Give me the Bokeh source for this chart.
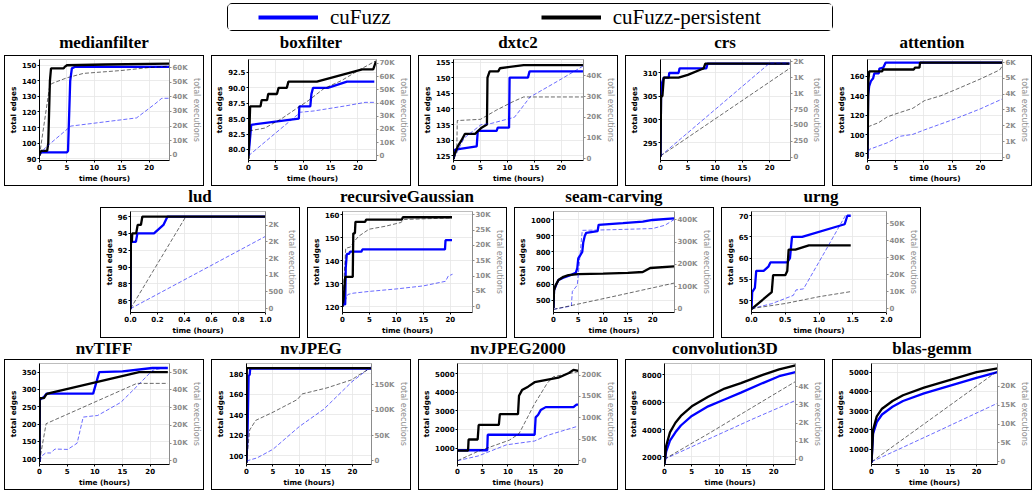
from bokeh.plotting import figure
from bokeh.models import Range1d, LinearAxis, FixedTicker, Div, Spacer, Legend, LegendItem
from bokeh.layouts import row, column
from bokeh.embed import file_html
from bokeh.resources import INLINE

BLUE = "#0000ff"
BLACK = "#000000"
GREY = "#8c8c8c"
NAN = float("nan")

SERIES_NAMES = ["cuFuzz", "cuFuzz-persistent"]
X_LABEL = "time (hours)"
Y_LABEL = "total edges"
Y2_LABEL = "total executions"

# ---------------- data: (hours, value) pairs ----------------
medianfilter_cf_edges = [(0, 93), (0.2, 94), (5.0, 94), (5.2, 95), (5.6, 140), (5.9, 148), (6.5, 149), (23.7, 149)]
medianfilter_cp_edges = [(0, 92), (0.3, 95), (1.4, 95), (1.6, 100), (1.9, 140), (2.1, 148), (4.4, 148), (4.6, 149), (5.0, 150), (12, 150.5), (23.7, 151)]
medianfilter_cf_exec = [(0, 0), (1, 5000), (5.7, 20000), (10, 22000), (17.7, 25600), (21, 35000), (22.3, 39000), (23.7, 39000)]
medianfilter_cp_exec = [(0, 0), (1.8, 46000), (2.2, 49000), (5, 53000), (8, 56000), (15, 58000), (20, 60000), (23.7, 61000)]

boxfilter_cf_edges = [(0, 79), (0.5, 84), (9.2, 85), (9.3, 87), (11.3, 87), (11.5, 89), (11.8, 90), (14.5, 90), (18, 91), (23, 91)]
boxfilter_cp_edges = [(0, 78.5), (0.3, 87), (2.2, 87), (2.4, 88), (3.4, 88), (3.6, 89), (5.2, 89), (5.5, 90), (7.0, 90), (7.3, 91), (12.5, 91), (20.8, 93), (22.8, 93), (23.3, 94.3)]
boxfilter_cf_exec = [(0, 0), (9.5, 33000), (12, 34000), (15, 36000), (18, 38000), (21.3, 40500), (23, 40500)]
boxfilter_cp_exec = [(0, 0), (0.3, 19000), (3, 21000), (6, 28000), (9.2, 37000), (11, 42000), (13.8, 51000), (17, 57000), (20.2, 65000), (23.3, 72000)]

dxtc2_cf_edges = [(0, 124), (0.3, 127), (4.3, 128), (4.5, 133), (8, 133), (8.2, 134), (10.3, 134), (10.4, 150), (13.8, 150), (14.1, 152), (24, 152)]
dxtc2_cp_edges = [(0, 124), (0.3, 126), (0.8, 128), (1.5, 130), (2.1, 132), (4, 132), (4.6, 133), (5.2, 134), (6.2, 135), (6.3, 150), (6.7, 152), (8.3, 152), (8.6, 153), (13, 154), (24, 154)]
dxtc2_cf_exec = [(0, 0), (2, 10000), (5.1, 16400), (7, 17000), (11.3, 20000), (12.5, 24000), (14.2, 29800), (17.7, 35000), (20, 38500), (24, 44700)]
dxtc2_cp_exec = [(0, 0), (0.6, 3000), (0.7, 18400), (5, 19000), (8, 23500), (11, 27500), (13, 29800), (24, 29800)]

crs_cf_edges = [(0, 292), (0.1, 305), (0.3, 308), (0.6, 309), (1.5, 309), (1.6, 310), (3.3, 310), (3.5, 311), (8.4, 311), (8.6, 312), (23.6, 312)]
crs_cp_edges = [(0, 292), (0.1, 305), (0.35, 305), (0.6, 309), (3.3, 309), (5, 309.6), (7.5, 310.8), (7.9, 311), (8.2, 312), (23.6, 312)]
crs_cf_exec = [(0, 20), (20, 1480), (23.6, 1480)]
crs_cp_exec = [(0, 20), (23.7, 1400)]

attention_cf_edges = [(0, 75), (0.1, 140), (0.3, 150), (0.6, 155), (1.0, 158), (1.2, 163), (2, 163), (2.1, 168), (2.8, 169), (3.2, 174), (23.9, 174)]
attention_cp_edges = [(0, 75), (0.15, 155), (0.3, 165), (2.6, 165), (2.7, 167), (8.2, 167), (8.4, 169), (9.2, 169), (9.3, 174), (23.9, 174)]
attention_cf_exec = [(0, 0), (0.3, 500), (3.5, 920), (5.7, 1330), (8, 1450), (10.1, 1740), (15.7, 2460), (20, 3070), (23.9, 3700)]
attention_cp_exec = [(0, 0), (0.2, 1950), (2, 2200), (3.5, 2560), (5, 2750), (8, 3100), (10.1, 3590), (13, 3900), (15.7, 4300), (20, 4960), (23.4, 5530), (23.9, 5800)]

lud_cf_edges = [(0, 85), (0.003, 93), (0.04, 93), (0.051, 94), (0.174, 94), (0.244, 95), (0.274, 96), (1.0, 96)]
lud_cp_edges = [(0, 85), (0.003, 93), (0.01, 93), (0.013, 94), (0.042, 94), (0.053, 95), (0.077, 95), (0.088, 96), (1.0, 96)]
lud_cf_exec = [(0, 0), (1.0, 2166)]
lud_cp_exec = [(0, 0), (0.407, 2738)]

recursiveGaussian_cf_edges = [(0, 121), (0.5, 121), (0.6, 137), (0.8, 143), (1.2, 143), (1.4, 144), (3.5, 144), (3.7, 145), (19, 145), (19.1, 149), (20.3, 149)]
recursiveGaussian_cp_edges = [(0, 120), (0.2, 123), (0.5, 133), (1.9, 133), (2.0, 152), (2.3, 152), (2.4, 157), (4.2, 157), (4.4, 158), (11, 158), (11.2, 159), (20.3, 159)]
recursiveGaussian_cf_exec = [(0, 0), (0.5, 2000), (1, 4000), (1.95, 4400), (5, 5000), (10, 5800), (15, 6800), (19.1, 8300), (19.6, 10000), (20.4, 10600)]
recursiveGaussian_cp_exec = [(0, 0), (0.6, 19100), (1.5, 19500), (2, 21000), (3, 23000), (4.9, 25300), (8, 26300), (10.8, 27500), (11.5, 28500), (20.3, 29000)]

seam_carving_cf_edges = [(0, 450), (0.1, 560), (0.6, 600), (1, 625), (2, 640), (3, 650), (3.8, 660), (4.5, 670), (4.8, 700), (5.0, 760), (5.8, 800), (6.0, 860), (6.3, 900), (6.6, 920), (8.9, 930), (9.1, 970), (14, 980), (18, 990), (20, 1000), (24.3, 1010)]
seam_carving_cp_edges = [(0, 450), (0.1, 560), (0.4, 590), (1, 625), (2, 645), (3, 655), (5, 662), (10, 665), (15, 670), (18, 675), (19.5, 700), (24.3, 710)]
seam_carving_cf_exec = [(0, 0), (3.6, 15000), (3.8, 80000), (4.8, 108000), (5.8, 352000), (12, 355000), (20, 360000), (22.5, 375000), (24.3, 400000)]
seam_carving_cp_exec = [(0, 0), (12, 57000), (24.3, 117000)]

urng_cf_edges = [(0, 48), (0.01, 52), (0.05, 53), (0.07, 57), (0.18, 57), (0.25, 58), (0.28, 59), (0.53, 59), (0.57, 60), (0.6, 65), (0.75, 65), (1.38, 68), (1.42, 70), (1.47, 70)]
urng_cp_edges = [(0, 48), (0.3, 52), (0.32, 56), (0.5, 56), (0.53, 57), (0.55, 62), (0.65, 62), (0.85, 63), (1.47, 63)]
urng_cf_exec = [(0, 0), (0.3, 2900), (0.62, 7800), (0.66, 11000), (0.77, 11600), (1.08, 33000), (1.38, 54000), (1.4, 55700)]
urng_cp_exec = [(0, 0), (0.5, 3000), (1.0, 7000), (1.47, 10000)]

nvTIFF_cf_edges = [(0, 90), (0.05, 270), (0.8, 278), (1.3, 288), (9.7, 288), (10.8, 350), (15, 352), (20.4, 362), (23.2, 362)]
nvTIFF_cp_edges = [(0, 90), (0.05, 275), (0.8, 275), (1.2, 285), (1.5, 288), (2, 290), (18, 350), (23.2, 350)]
nvTIFF_cf_exec = [(0, 0), (0.5, 3000), (1.1, 4500), (2, 4500), (2.8, 6700), (5.1, 6500), (6.8, 10000), (7.9, 24700), (9.5, 25300), (10.5, 25600), (14.7, 33000), (17.6, 42000), (20.4, 51000), (23.2, 53000)]
nvTIFF_cp_exec = [(0, 0), (1.2, 21000), (17.6, 43700), (23.2, 43700)]

nvJPEG_cf_edges = [(0, 93), (0.2, 123), (0.4, 178), (0.6, 179), (0.7, 185), (23.6, 185)]
nvJPEG_cp_edges = [(0, 93), (0.05, 185.5), (23.6, 185.5)]
nvJPEG_cf_exec = [(0, 0), (2, 6000), (5, 23000), (10, 68000), (14.6, 102000), (19.9, 156000), (23.6, 186000)]
nvJPEG_cp_exec = [(0, 0), (0.3, 30000), (0.6, 61000), (1.75, 80000), (5, 96000), (9.6, 121000), (10.5, 132000), (15.2, 144000), (19.9, 160000), (21, 168000), (23.6, 184000)]

nvJPEG2000_cf_edges = [(0, 880), (5.9, 880), (6.0, 1715), (15.3, 1715), (15.5, 2650), (16, 2790), (16.5, 3040), (17.5, 3200), (23, 3200), (23.6, 3330), (24, 3330)]
nvJPEG2000_cp_edges = [(0, 864), (2.1, 864), (2.2, 1460), (4.0, 1460), (4.2, 2240), (8.2, 2240), (8.4, 2820), (12, 2820), (12.2, 3810), (12.8, 4115), (14, 4300), (15.3, 4540), (20, 4780), (22.1, 5034), (23, 5200), (24, 5150)]
nvJPEG2000_cf_exec = [(0, 0), (4.1, 11000), (9.7, 37000), (15.3, 46000), (17.8, 59000), (20.9, 70000), (24, 81000)]
nvJPEG2000_cp_exec = [(0, 0), (4.1, 22000), (10.3, 48000), (12.2, 63000), (15.3, 133000), (17.8, 181000), (19, 196000), (24, 208000)]

convolution3D_cf_edges = [(0, 1500), (0.3, 2400), (1, 3200), (2, 3800), (3, 4300), (5, 5000), (8, 5700), (11, 6200), (14, 6700), (18, 7400), (21, 7900), (24, 8200)]
convolution3D_cp_edges = [(0, 1500), (0.3, 2800), (1, 3800), (2, 4500), (3, 5000), (5, 5700), (8, 6400), (11, 7000), (14, 7400), (18, 8000), (21, 8400), (24, 8700)]
convolution3D_cf_exec = [(0, 0), (8, 1100), (16, 2200), (24, 3250)]
convolution3D_cp_exec = [(0, 0), (8, 1400), (16, 2850), (24, 4300)]

blas_gemm_cf_edges = [(0, 300), (0.3, 1800), (1, 2400), (2, 2800), (4, 3200), (6, 3500), (10, 3900), (15, 4300), (20, 4700), (24, 5000)]
blas_gemm_cp_edges = [(0, 300), (0.3, 2000), (1, 2700), (2, 3100), (4, 3500), (6, 3800), (10, 4200), (15, 4600), (20, 5000), (24, 5200)]
blas_gemm_cf_exec = [(0, 0), (12, 7700), (24, 15500)]
blas_gemm_cp_exec = [(0, 0), (12, 12000), (24, 24000)]

# ---------------- tick values and labels ----------------
HOURS_TICKS = [0, 5, 10, 15, 20]
HOURS_LABELS = ["0", "5", "10", "15", "20"]
LUD_X_TICKS = [0, 0.2, 0.4, 0.6, 0.8, 1.0]
LUD_X_LABELS = ["0.0", "0.2", "0.4", "0.6", "0.8", "1.0"]
URNG_X_TICKS = [0, 0.5, 1.0, 1.5, 2.0]
URNG_X_LABELS = ["0.0", "0.5", "1.0", "1.5", "2.0"]

medianfilter_left = [90, 100, 110, 120, 130, 140, 150]
medianfilter_right = [0, 10000, 20000, 30000, 40000, 50000, 60000]
medianfilter_right_labels = ["0", "10K", "20K", "30K", "40K", "50K", "60K"]
boxfilter_left = [80, 82.5, 85, 87.5, 90, 92.5]
boxfilter_left_labels = ["80.0", "82.5", "85.0", "87.5", "90.0", "92.5"]
boxfilter_right = [0, 10000, 20000, 30000, 40000, 50000, 60000, 70000]
boxfilter_right_labels = ["0", "10K", "20K", "30K", "40K", "50K", "60K", "70K"]
dxtc2_left = [125, 130, 135, 140, 145, 150, 155]
dxtc2_right = [0, 10000, 20000, 30000, 40000]
dxtc2_right_labels = ["0", "10K", "20K", "30K", "40K"]
crs_left = [295, 300, 305, 310]
crs_right = [0, 250, 500, 750, 1000, 1250, 1500]
crs_right_labels = ["0", "250", "500", "750", "1K", "1K", "2K"]
attention_left = [80, 100, 120, 140, 160]
attention_right = [0, 1000, 2000, 3000, 4000, 5000, 6000]
attention_right_labels = ["0", "1K", "2K", "3K", "4K", "5K", "6K"]
lud_left = [86, 88, 90, 92, 94, 96]
lud_right = [0, 500, 1000, 1500, 2000, 2500]
lud_right_labels = ["0", "500", "1K", "2K", "2K", "2K"]
recursiveGaussian_left = [120, 130, 140, 150, 160]
recursiveGaussian_right = [0, 5000, 10000, 15000, 20000, 25000, 30000]
recursiveGaussian_right_labels = ["0", "5K", "10K", "15K", "20K", "25K", "30K"]
seam_carving_left = [500, 600, 700, 800, 900, 1000]
seam_carving_right = [0, 100000, 200000, 300000, 400000]
seam_carving_right_labels = ["0", "100K", "200K", "300K", "400K"]
urng_left = [50, 55, 60, 65, 70]
urng_right = [0, 10000, 20000, 30000, 40000, 50000]
urng_right_labels = ["0", "10K", "20K", "30K", "40K", "50K"]
nvTIFF_left = [100, 150, 200, 250, 300, 350]
nvTIFF_right = [0, 10000, 20000, 30000, 40000, 50000]
nvTIFF_right_labels = ["0", "10K", "20K", "30K", "40K", "50K"]
nvJPEG_left = [100, 120, 140, 160, 180]
nvJPEG_right = [0, 50000, 100000, 150000]
nvJPEG_right_labels = ["0", "50K", "100K", "150K"]
nvJPEG2000_left = [1000, 2000, 3000, 4000, 5000]
nvJPEG2000_right = [0, 50000, 100000, 150000, 200000]
nvJPEG2000_right_labels = ["0", "50K", "100K", "150K", "200K"]
convolution3D_left = [2000, 4000, 6000, 8000]
convolution3D_right = [0, 1000, 2000, 3000, 4000]
convolution3D_right_labels = ["0", "1K", "2K", "3K", "4K"]
blas_gemm_left = [1000, 2000, 3000, 4000, 5000]
blas_gemm_right = [0, 5000, 10000, 15000, 20000]
blas_gemm_right_labels = ["0", "5K", "10K", "15K", "20K"]

TITLES = ["medianfilter", "boxfilter", "dxtc2", "crs", "attention",
          "lud", "recursiveGaussian", "seam-carving", "urng",
          "nvTIFF", "nvJPEG", "nvJPEG2000", "convolution3D", "blas-gemm"]

# ---------------- panel specs (data refs + axis extents) ----------------
SPECS = {
    "medianfilter": dict(d=(medianfilter_cf_edges, medianfilter_cp_edges, medianfilter_cf_exec, medianfilter_cp_exec),
                         xr=(0, 23.7), lr=(88.8, 153.7), rr=(-3500, 65500),
                         xt=(HOURS_TICKS, HOURS_LABELS), lt=(medianfilter_left, None), rt=(medianfilter_right, medianfilter_right_labels)),
    "boxfilter": dict(d=(boxfilter_cf_edges, boxfilter_cp_edges, boxfilter_cf_exec, boxfilter_cp_exec),
                      xr=(0, 23.4), lr=(78.2, 94.6), rr=(-3600, 73000),
                      xt=(HOURS_TICKS, HOURS_LABELS), lt=(boxfilter_left, boxfilter_left_labels), rt=(boxfilter_right, boxfilter_right_labels)),
    "dxtc2": dict(d=(dxtc2_cf_edges, dxtc2_cp_edges, dxtc2_cf_exec, dxtc2_cp_exec),
                  xr=(0, 24.1), lr=(123.5, 155.8), rr=(-900, 47900),
                  xt=(HOURS_TICKS, HOURS_LABELS), lt=(dxtc2_left, None), rt=(dxtc2_right, dxtc2_right_labels)),
    "crs": dict(d=(crs_cf_edges, crs_cp_edges, crs_cf_exec, crs_cp_exec),
                xr=(0, 23.8), lr=(291.2, 312.9), rr=(-51, 1536),
                xt=(HOURS_TICKS, HOURS_LABELS), lt=(crs_left, None), rt=(crs_right, crs_right_labels)),
    "attention": dict(d=(attention_cf_edges, attention_cp_edges, attention_cf_exec, attention_cp_exec),
                      xr=(0, 23.9), lr=(73.3, 177.3), rr=(-200, 6190),
                      xt=(HOURS_TICKS, HOURS_LABELS), lt=(attention_left, None), rt=(attention_right, attention_right_labels)),
    "lud": dict(d=(lud_cf_edges, lud_cp_edges, lud_cf_exec, lud_cp_exec),
                xr=(0, 1.0), lr=(84.6, 96.6), rr=(-115, 2910),
                xt=(LUD_X_TICKS, LUD_X_LABELS), lt=(lud_left, None), rt=(lud_right, lud_right_labels)),
    "recursiveGaussian": dict(d=(recursiveGaussian_cf_edges, recursiveGaussian_cp_edges, recursiveGaussian_cf_exec, recursiveGaussian_cp_exec),
                              xr=(0, 24.1), lr=(117.5, 161.5), rr=(-1900, 31100),
                              xt=(HOURS_TICKS, HOURS_LABELS), lt=(recursiveGaussian_left, None), rt=(recursiveGaussian_right, recursiveGaussian_right_labels)),
    "seam-carving": dict(d=(seam_carving_cf_edges, seam_carving_cp_edges, seam_carving_cf_exec, seam_carving_cp_exec),
                         xr=(0, 24.4), lr=(422, 1053), rr=(-14000, 436000),
                         xt=(HOURS_TICKS, HOURS_LABELS), lt=(seam_carving_left, None), rt=(seam_carving_right, seam_carving_right_labels)),
    "urng": dict(d=(urng_cf_edges, urng_cp_edges, urng_cf_exec, urng_cp_exec),
                 xr=(0, 2.0), lr=(47.2, 71), rr=(-2300, 57200),
                 xt=(URNG_X_TICKS, URNG_X_LABELS), lt=(urng_left, None), rt=(urng_right, urng_right_labels)),
    "nvTIFF": dict(d=(nvTIFF_cf_edges, nvTIFF_cp_edges, nvTIFF_cf_exec, nvTIFF_cp_exec),
                   xr=(0, 23.5), lr=(83, 375), rr=(-2000, 54900),
                   xt=(HOURS_TICKS, HOURS_LABELS), lt=(nvTIFF_left, None), rt=(nvTIFF_right, nvTIFF_right_labels)),
    "nvJPEG": dict(d=(nvJPEG_cf_edges, nvJPEG_cp_edges, nvJPEG_cf_exec, nvJPEG_cp_exec),
                   xr=(0, 23.6), lr=(91.2, 190), rr=(-7000, 192000),
                   xt=(HOURS_TICKS, HOURS_LABELS), lt=(nvJPEG_left, None), rt=(nvJPEG_right, nvJPEG_right_labels)),
    "nvJPEG2000": dict(d=(nvJPEG2000_cf_edges, nvJPEG2000_cp_edges, nvJPEG2000_cf_exec, nvJPEG2000_cp_exec),
                       xr=(0, 24), lr=(115, 5545), rr=(-8900, 227000),
                       xt=(HOURS_TICKS, HOURS_LABELS), lt=(nvJPEG2000_left, None), rt=(nvJPEG2000_right, nvJPEG2000_right_labels)),
    "convolution3D": dict(d=(convolution3D_cf_edges, convolution3D_cp_edges, convolution3D_cf_exec, convolution3D_cp_exec),
                          xr=(0, 24), lr=(1450, 8830), rr=(-300, 5300),
                          xt=(HOURS_TICKS, HOURS_LABELS), lt=(convolution3D_left, None), rt=(convolution3D_right, convolution3D_right_labels)),
    "blas-gemm": dict(d=(blas_gemm_cf_edges, blas_gemm_cp_edges, blas_gemm_cf_exec, blas_gemm_cp_exec),
                      xr=(0, 24), lr=(200, 5450), rr=(-700, 26000),
                      xt=(HOURS_TICKS, HOURS_LABELS), lt=(blas_gemm_left, None), rt=(blas_gemm_right, blas_gemm_right_labels)),
}

PANEL_W = 198
PANEL_H = 129
TICK_FONT = "7px"
LABEL_FONT = "7.3px"


def style_axis(ax, ticks, labels, color, label_color, label_size, label_style):
    ax.ticker = FixedTicker(ticks=list(ticks))
    if labels is not None:
        ax.major_label_overrides = {t: l for t, l in zip(ticks, labels)}
    ax.major_label_text_font = "DejaVu Sans"
    ax.major_label_text_font_size = TICK_FONT
    ax.major_label_text_font_style = "bold"
    ax.major_label_text_color = color
    ax.major_label_text_line_height = 1.0
    ax.axis_label_text_font = "DejaVu Sans"
    ax.axis_label_text_font_size = label_size
    ax.axis_label_text_font_style = label_style
    ax.axis_label_text_color = label_color
    ax.axis_label_text_line_height = 1.0
    ax.major_tick_out = 2
    ax.major_tick_in = 0
    ax.minor_tick_out = 0
    ax.minor_tick_in = 0
    ax.major_tick_line_color = color
    ax.major_label_standoff = 1
    ax.axis_label_standoff = 1


def make_panel(title, title_h):
    s = SPECS[title]
    cf_e, cp_e, cf_x, cp_x = s["d"]
    p = figure(width=PANEL_W, height=PANEL_H, output_backend="svg", toolbar_location=None,
               x_range=Range1d(*s["xr"]), y_range=Range1d(*s["lr"]),
               min_border_left=4, min_border_right=4, min_border_top=3, min_border_bottom=2,
               styles={"outline": "1.3px solid #000000"})
    p.extra_y_ranges = {"exec": Range1d(*s["rr"])}
    p.background_fill_color = "white"
    p.border_fill_color = "white"
    p.outline_line_color = "#bdbdbd"
    p.outline_line_width = 1

    style_axis(p.xaxis[0], s["xt"][0], s["xt"][1], "#000000", "#000000", LABEL_FONT, "bold")
    p.xaxis[0].axis_label = X_LABEL
    p.xaxis[0].axis_line_color = "#000000"
    style_axis(p.yaxis[0], s["lt"][0], s["lt"][1], "#000000", "#000000", LABEL_FONT, "bold")
    p.yaxis[0].axis_label = Y_LABEL
    p.yaxis[0].axis_line_color = "#000000"

    ax2 = LinearAxis(y_range_name="exec", axis_label=Y2_LABEL)
    style_axis(ax2, s["rt"][0], s["rt"][1], GREY, GREY, "8px", "normal")
    ax2.axis_line_color = GREY
    p.add_layout(ax2, "right")

    p.xgrid.grid_line_color = "#e6e6e6"
    p.ygrid.grid_line_color = "#e6e6e6"
    p.xgrid.grid_line_width = 0.8
    p.ygrid.grid_line_width = 0.8

    p.line([a for a, b in cf_e], [b for a, b in cf_e], color=BLUE, line_width=2.3)
    p.line([a for a, b in cp_e], [b for a, b in cp_e], color=BLACK, line_width=2.3)
    p.line([a for a, b in cf_x], [b for a, b in cf_x], color=BLUE, line_width=0.9, line_alpha=0.65,
           line_dash="4 2", y_range_name="exec")
    p.line([a for a, b in cp_x], [b for a, b in cp_x], color=BLACK, line_width=0.9, line_alpha=0.65,
           line_dash="4 2", y_range_name="exec")

    t = Div(text=title, width=PANEL_W, height=title_h, margin=(0, 0, 0, 0),
            styles={"text-align": "center", "font-family": "'Liberation Serif', 'Times New Roman', serif",
                    "font-weight": "bold", "font-size": "17px", "line-height": "%dpx" % title_h,
                    "color": "#000"})
    return column([t, p], spacing=0)


# ---------------- legend ----------------
lg = figure(width=604, height=26, output_backend="svg", toolbar_location=None,
            x_axis_location=None, y_axis_location=None, min_border=0,
            x_range=Range1d(0, 1), y_range=Range1d(0, 1),
            styles={"outline": "1px solid #000000", "border-radius": "4px"})
lg.outline_line_color = None
lg.grid.visible = False
r_cf = lg.line(x=[NAN, NAN], y=[NAN, NAN], color=BLUE, line_width=4)
r_cp = lg.line(x=[NAN, NAN], y=[NAN, NAN], color=BLACK, line_width=4)
legend = Legend(items=[LegendItem(label=SERIES_NAMES[0], renderers=[r_cf]),
                       LegendItem(label=SERIES_NAMES[1], renderers=[r_cp])],
                orientation="horizontal", location=(30, 0), padding=0, margin=0,
                spacing=150, glyph_width=60, glyph_height=26, label_height=26, label_standoff=12,
                label_text_font="Liberation Serif", label_text_font_size="21px",
                label_text_color="#000000", label_text_baseline="middle",
                border_line_color=None, background_fill_alpha=0)
lg.add_layout(legend, "center")

legend_block = column([Spacer(width=10, height=4), row([Spacer(width=228, height=26), lg], spacing=0)], spacing=0)
row1 = row([Spacer(width=5, height=10)] + [make_panel(t, 26) for t in TITLES[0:5]], spacing=0)
row2 = row([Spacer(width=101, height=10)] + [make_panel(t, 23) for t in TITLES[5:9]], spacing=0)
row3 = row([Spacer(width=5, height=10)] + [make_panel(t, 23) for t in TITLES[9:14]], spacing=0)

# 9px gaps between panels
for r_ in (row1, row2, row3):
    kids = r_.children
    new = [kids[0]]
    for k in kids[1:]:
        if len(new) > 1:
            new.append(Spacer(width=9, height=10))
        new.append(k)
    r_.children = new

layout = column([legend_block, row1, row2, row3], spacing=0)

open("out.html", "w").write(file_html(layout, INLINE))
